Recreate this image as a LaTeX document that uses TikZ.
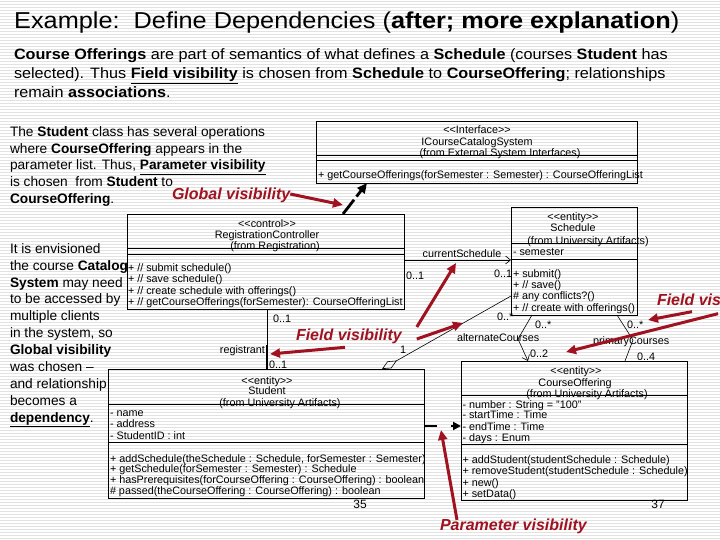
\documentclass[tikz,border=0pt]{standalone}
\usepackage{fontspec}
\setmainfont{Liberation Sans}
\newfontfamily\titlefam[FakeStretch=1.1]{Liberation Sans}
\newfontfamily\bodyfam[FakeStretch=1.08]{Liberation Sans}
\usetikzlibrary{arrows.meta,calc}
\definecolor{vred}{RGB}{160,18,32}
\definecolor{stripe}{RGB}{226,226,226}
\newcommand{\umlf}{\fontsize{10.8}{12}\selectfont}
\newcommand{\stereo}[1]{<{}<#1>{}>}
\tikzset{
  txt/.style={inner sep=0pt, outer sep=0pt, anchor=base west, font=\fontsize{13.7}{16}\selectfont},
  body/.style={inner sep=0pt, outer sep=0pt, anchor=base west, font=\bodyfam\fontsize{15}{19}\selectfont},
  umlbox/.style={draw, line width=0.8pt, anchor=north west, inner sep=0pt, outer sep=0pt},
  boxline/.style={line width=0.8pt},
  uml/.style={inner sep=0pt, outer sep=0pt, anchor=base west, font=\umlf},
  umlc/.style={inner sep=0pt, outer sep=0pt, anchor=base, font=\umlf},
  umlr/.style={inner sep=0pt, outer sep=0pt, anchor=base east, font=\umlf},
  redtxt/.style={inner sep=0pt, outer sep=0pt, anchor=base west, text=vred, font=\fontsize{16}{18}\selectfont\bfseries\itshape},
  redarr/.style={draw=vred, line width=3pt, -{Triangle[length=10pt,width=9pt]}},
  assoc/.style={line width=0.6pt},
  opentip/.style={-{Straight Barb[length=5pt,width=8pt]}},
  dependA/.style={line width=2.8pt, dash pattern=on 18pt off 4pt, -{Triangle[length=10pt,width=9pt]}},
  dependB/.style={line width=2.8pt, dash pattern=on 13pt off 14pt, -{Triangle[length=8pt,width=8pt]}},
  pnum/.style={inner sep=0pt, outer sep=0pt, anchor=base, font=\fontsize{12}{14}\selectfont}
}
\begin{document}
\begin{tikzpicture}[x=1pt,y=-1pt]
\useasboundingbox (0,0) rectangle (720,540);
\fill[white] (0,0) rectangle (720,540);
\foreach \k in {0,...,179} \draw[stripe, line width=0.9pt] (0,3*\k+1.5) -- (720,3*\k+1.5);

% title and body
\node[inner sep=0pt, anchor=base west, font=\titlefam\fontsize{23}{28}\selectfont] (title) at (14,29) {Example:\ \ Define Dependencies (\textbf{after; more explanation})};
\node[body] (b1) at (14,60) {\textbf{Course Offerings} are part of semantics of what defines a \textbf{Schedule} (courses \textbf{Student} has};
\node[body] (b2) at (14,79) {selected). Thus \underline{\textbf{Field visibility}} is chosen from \textbf{Schedule} to \textbf{CourseOffering}; relationships};
\node[body] (b3) at (14,98) {remain \textbf{associations}.};

% left text 1
\node[txt] (l1) at (10,136.5) {The \textbf{Student} class has several operations};
\node[txt] (l2) at (10,153.3) {where \textbf{CourseOffering} appears in the};
\node[txt] (l3) at (10,170) {parameter list. Thus, \underline{\textbf{Parameter visibility}}};
\node[txt] (l4) at (10,186.8) {is chosen\ \ from \textbf{Student} to};
\node[txt] (l5) at (10,203.5) {\textbf{CourseOffering}.};

% left text 2
\node[txt] (m1) at (10,253) {It is envisioned};
\node[txt] (m2) at (10,270) {the course \textbf{Catalog}};
\node[txt] (m3) at (10,287) {\textbf{System} may need};
\node[txt] (m4) at (10,303.8) {to be accessed by};
\node[txt] (m5) at (10,320.7) {multiple clients};
\node[txt] (m6) at (10,337.6) {in the system, so};
\node[txt] (m7) at (10,354.5) {\textbf{Global visibility}};
\node[txt] (m8) at (10,371.4) {was chosen --};
\node[txt] (m9) at (10,388.3) {and relationship};
\node[txt] (m10) at (10,405.2) {becomes a};
\node[txt] (m11) at (10,422) {\underline{\textbf{dependency}}.};

% Interface box
\node[umlbox, minimum width=321pt, minimum height=62pt] (iface) at (316,121) {};
\draw[boxline] (iface.west |- 0,155) -- (iface.east |- 0,155);
\draw[boxline] (iface.west |- 0,160.5) -- (iface.east |- 0,160.5);
\node[umlc] (if1) at (477,134) {\stereo{Interface}};
\node[umlc] (if2) at (477,146) {ICourseCatalogSystem};
\node[umlc] (if3) at (500,157) {(from External System Interfaces)};
\node[uml] (if4) at (318,179) {+ getCourseOfferings(forSemester : Semester) : CourseOfferingList};

% Control box
\node[umlbox, minimum width=277pt, minimum height=95pt] (ctrl) at (127,214) {};
\draw[boxline] (ctrl.west |- 0,248) -- (ctrl.east |- 0,248);
\draw[boxline] (ctrl.west |- 0,254) -- (ctrl.east |- 0,254);
\node[umlc] (c1) at (267,227) {\stereo{control}};
\node[umlc] (c2) at (267,238.5) {RegistrationController};
\node[umlc] (c3) at (275,249.5) {(from Registration)};
\node[uml] (c4) at (128,271) {+ // submit schedule()};
\node[uml] (c5) at (128,282.5) {+ // save schedule()};
\node[uml] (c6) at (128,294) {+ // create schedule with offerings()};
\node[uml] (c7) at (128,305.5) {+ // getCourseOfferings(forSemester): CourseOfferingList};

% Schedule box
\node[umlbox, minimum width=126pt, minimum height=108pt] (sched) at (511,207) {};
\draw[boxline] (sched.west |- 0,243) -- (sched.east |- 0,243);
\draw[boxline] (sched.west |- 0,259) -- (sched.east |- 0,259);
\node[umlc] (s1) at (573,221) {\stereo{entity}};
\node[umlc] (s2) at (573,232) {Schedule};
\node[umlc] (s3) at (588,244) {(from University Artifacts)};
\node[uml] (s4) at (513,255) {- semester};
\node[uml] (s5) at (513,277) {+ submit()};
\node[uml] (s6) at (513,288) {+ // save()};
\node[uml] (s7) at (513,299) {\# any conflicts?()};
\node[uml] (s8) at (513,311) {+ // create\ with offerings()};

% CourseOffering box
\node[umlbox, minimum width=226pt, minimum height=139pt] (course) at (461,361) {};
\draw[boxline] (course.west |- 0,395) -- (course.east |- 0,395);
\draw[boxline] (course.west |- 0,444) -- (course.east |- 0,444);
\node[umlc] (o1) at (576,374) {\stereo{entity}};
\node[umlc] (o2) at (575,386) {CourseOffering};
\node[umlc] (o3) at (587,397.5) {(from University Artifacts)};
\node[uml] (o4) at (462.5,408) {- number : String = "100"};
\node[uml] (o5) at (462.5,418.5) {- startTime : Time};
\node[uml] (o6) at (462.5,430) {- endTime : Time};
\node[uml] (o7) at (462.5,441) {- days : Enum};
\node[uml] (o8) at (462.5,463) {+ addStudent(studentSchedule : Schedule)};
\node[uml] (o9) at (462.5,474) {+ removeStudent(studentSchedule : Schedule)};
\node[uml] (o10) at (462.5,486) {+ new()};
\node[uml] (o11) at (462.5,497) {+ setData()};

% Student box
\node[umlbox, minimum width=316pt, minimum height=129pt] (stud) at (108,369) {};
\draw[boxline] (stud.west |- 0,404) -- (stud.east |- 0,404);
\draw[boxline] (stud.west |- 0,442) -- (stud.east |- 0,442);
\node[umlc] (t1) at (267,384) {\stereo{entity}};
\node[umlc] (t2) at (267,394) {Student};
\node[umlc] (t3) at (280,406) {(from University Artifacts)};
\node[uml] (t4) at (110,416) {- name};
\node[uml] (t5) at (110,427) {- address};
\node[uml] (t6) at (110,439) {- StudentID : int};
\node[uml] (t7) at (110,462) {+ addSchedule(theSchedule : Schedule, forSemester : Semester)};
\node[uml] (t8) at (110,472.5) {+ getSchedule(forSemester : Semester) : Schedule};
\node[uml] (t9) at (110,483.5) {+ hasPrerequisites(forCourseOffering : CourseOffering) : boolean};
\node[uml] (t10) at (110,494.5) {\# passed(theCourseOffering : CourseOffering) : boolean};

% page numbers
\node[pnum] (p35) at (360,508) {35};
\node[pnum] (p37) at (658,508) {37};

% associations
\draw[assoc, opentip] (ctrl.east |- 0,260) -- (sched.west |- 0,260);
\node[umlc] (lcs) at (462,258) {currentSchedule};
\node[uml] (lc1) at (406,279) {0..1};
\node[uml] (lc2) at (494,277) {0..1};

\draw[assoc] (ctrl.south -| 267,0) -- (stud.north -| 267,0);
\draw[line width=2pt] (267,345) -- (stud.north -| 267,0);
\node[uml] (lr1) at (273,322) {0..1};
\node[umlr] (lreg) at (265,353) {registrant};
\node[uml] (lr2) at (269,368) {0..1};

\draw[assoc, {Diamond[open,length=17pt,width=8pt]}-] (stud.north -| 382,0) -- (sched.west |- 0,296);
\node[uml] (la1) at (400,353) {1};
\node[uml] (la2) at (497,320) {0..*};

\draw[assoc, opentip] (sched.south -| 532,0) -- (518,339) -- (course.north -| 528,0);
\node[uml] (lal1) at (535,328) {0..*};
\node[uml] (lal2) at (457,341) {alternateCourses};
\node[uml] (lal3) at (530,357) {0..2};

\draw[assoc] (sched.south -| 617,0) -- (633,340) -- (course.north -| 625,0);
\node[uml] (lp1) at (627,328) {0..*};
\node[uml] (lp2) at (593,344) {primaryCourses};
\node[uml] (lp3) at (637,360) {0..4};

% dependencies
\draw[dependA] (ctrl.north -| 343,0) -- (iface.south -| 367,0);
\draw[dependB] (stud.east |- 0,426) -- (course.west |- 0,426);

% red annotations
\node[redtxt] (gv) at (172,200) {Global visibility};
\node[redtxt] (fv) at (296,340) {Field visibility};
\node[redtxt] (fvr) at (657,305.5) {Field vis};
\node[redtxt] (pv) at (440,530.5) {Parameter visibility};

\coordinate (gvt) at (343,205);
\coordinate (fva) at (270,354);
\coordinate (fvb) at (463,323);
\coordinate (fvc) at (456,263);
\coordinate (fvd) at (648,320);
\coordinate (fve) at (566,352);
\coordinate (pvt) at (441,430);

\draw[redarr] (gv.east |- 0,194) -- (gvt);
\draw[redarr] (fv.south -| 345,0) ++(0,4) -- (fva);
\draw[redarr] (fv.east |- 0,339) ++(15,0) -- (fvb);
\draw[redarr] (fv.east |- 0,327) ++(15,0) -- (fvc);
\draw[redarr] (fvr.south -| 692,0) ++(0,6) -- (fvd);
\draw[redarr] (fvr.south -| 718,0) ++(0,8) -- (fve);
\draw[redarr] (pv.north -| 457,0) ++(0,1) -- (pvt);
\end{tikzpicture}
\end{document}
